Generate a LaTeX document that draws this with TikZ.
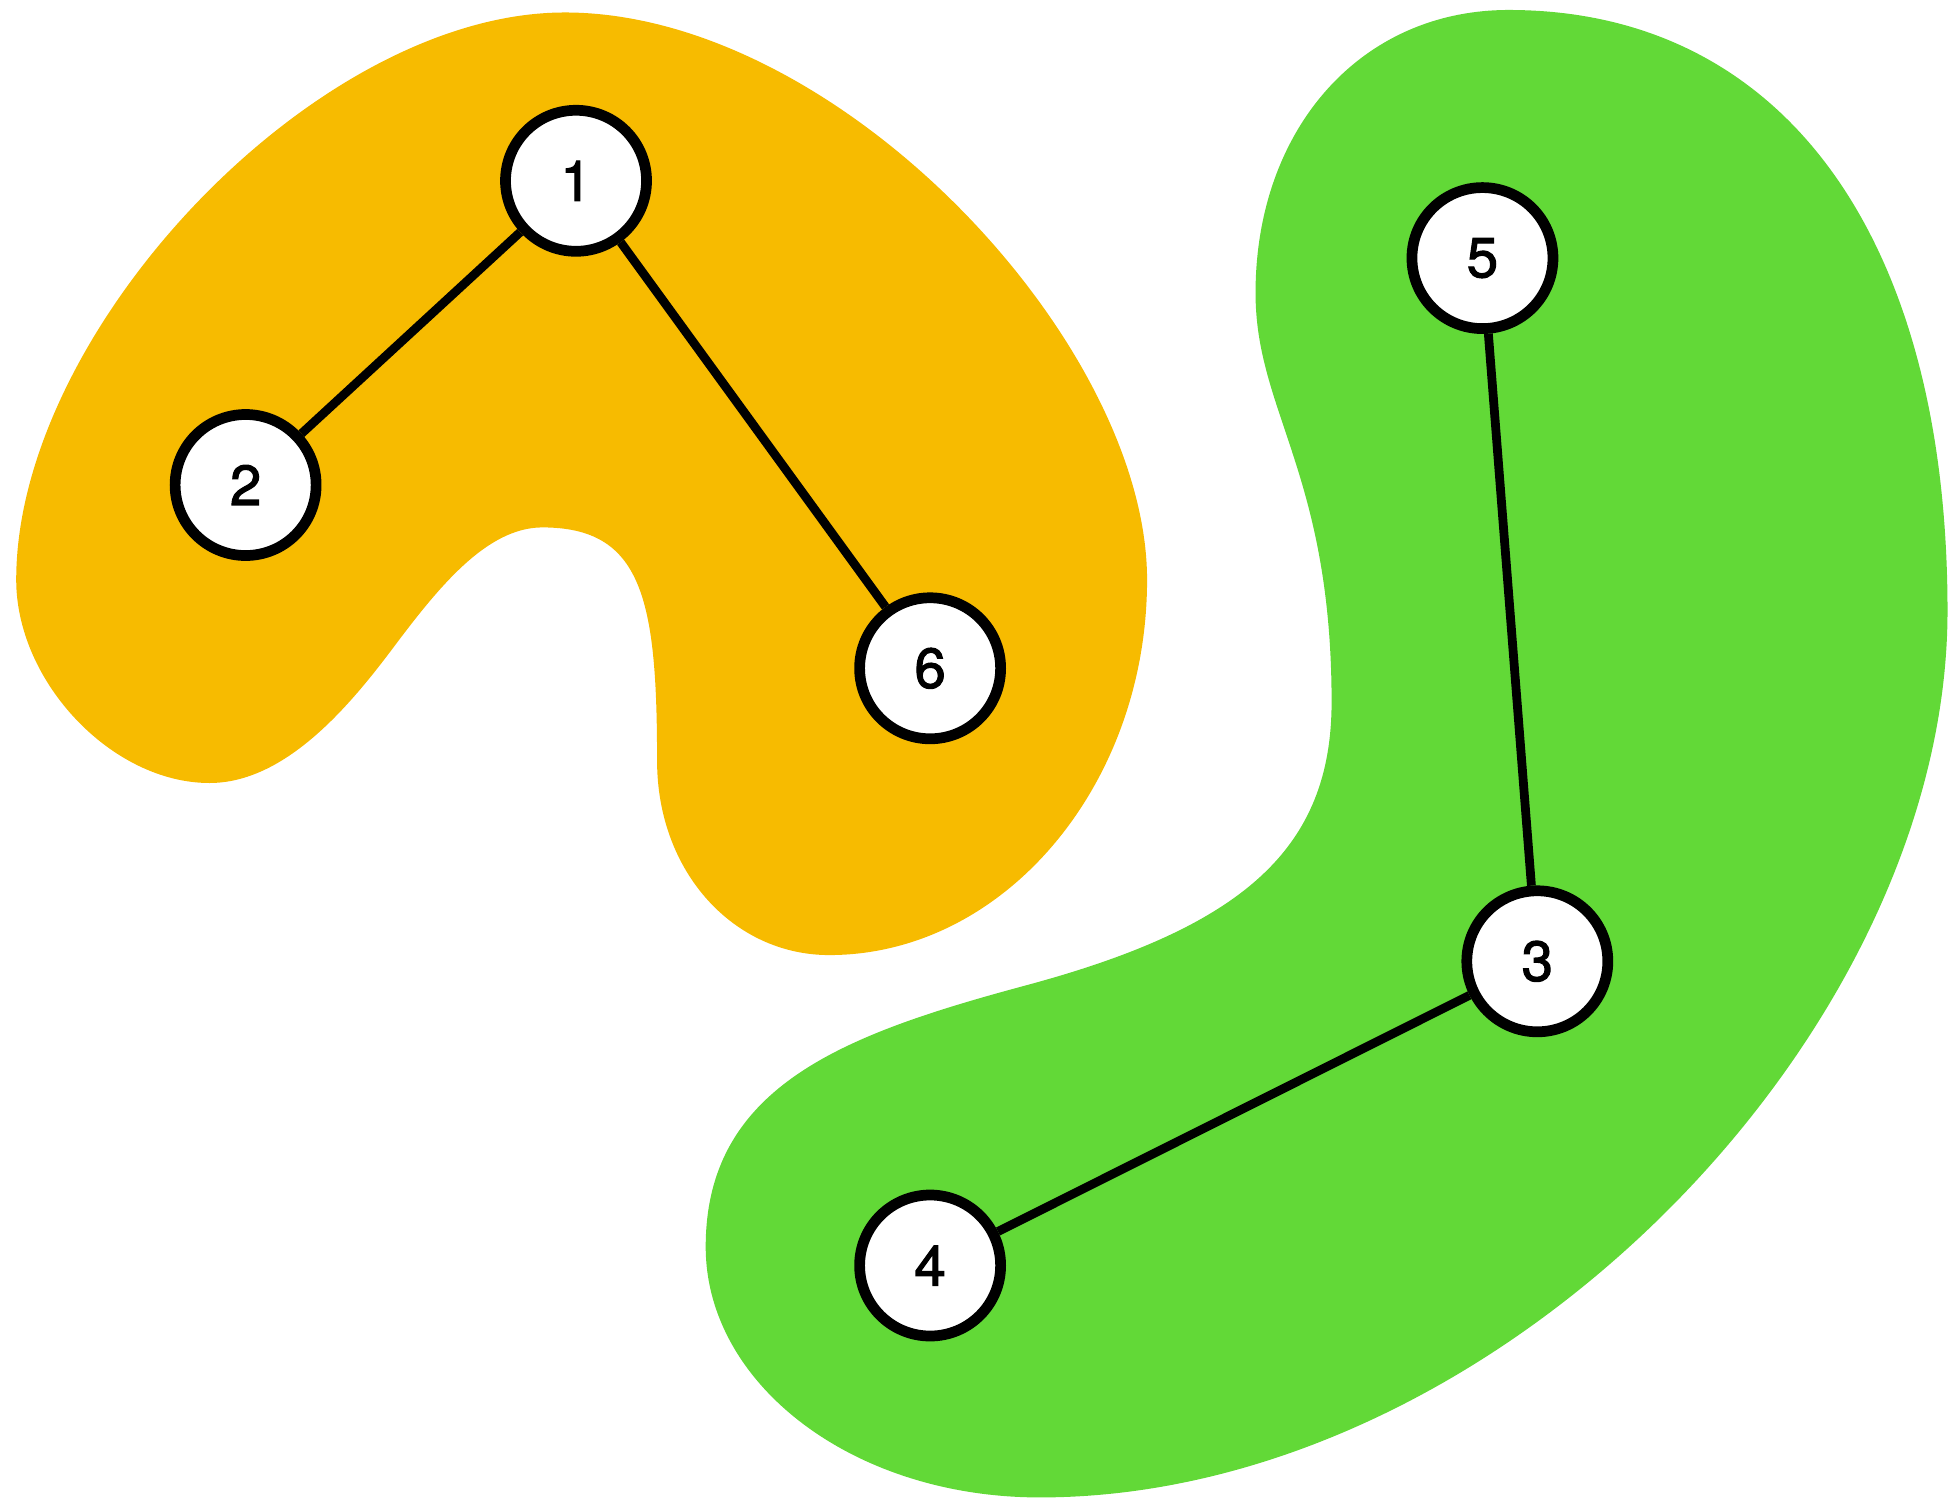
\documentclass[tikz,border=0pt]{standalone}
\usepackage{fontspec}
\setmainfont{TeX Gyre Heros}
\newfontfamily\vtxfont{TeX Gyre Heros}[FakeBold=2]
\definecolor{blobA}{HTML}{F7BB00}
\definecolor{blobB}{HTML}{62D937}
\begin{document}
\begin{tikzpicture}[x=0.012468cm,y=-0.012468cm,
  vtx/.style={circle,draw=black,fill=white,line width=3.05pt,minimum size=1.41cm,inner sep=0pt,font=\vtxfont\fontsize{16}{16}\selectfont},
  lnk/.style={draw=black,line width=2.5pt}]
\useasboundingbox (0,0) rectangle (1568,1201.5);
% orange group
\fill[blobA] (453,10) .. controls (673,10) and (920,275) .. (920,465)
  .. controls (920,630) and (805,766) .. (665,766)
  .. controls (589,766) and (527,700) .. (527,610)
  .. controls (527,480) and (515,423) .. (435,423)
  .. controls (390,423) and (351,472) .. (315,520)
  .. controls (279,568) and (228,628) .. (168,628)
  .. controls (90,628) and (13,547) .. (13,465)
  .. controls (13,265) and (253,10) .. (453,10) -- cycle;
% green group
\fill[blobB] (1210,8) .. controls (1430,8) and (1562,190) .. (1562,490)
  .. controls (1562,830) and (1200,1201) .. (834,1201)
  .. controls (684,1201) and (566,1110) .. (566,1000)
  .. controls (566,870) and (679,829) .. (824,790)
  .. controls (998,743) and (1068,680) .. (1068,563)
  .. controls (1068,380) and (1007,330) .. (1007,235)
  .. controls (1007,105) and (1090,8) .. (1210,8) -- cycle;
\node[vtx] (n1) at (462,145) {1};
\node[vtx] (n2) at (197,389) {2};
\node[vtx] (n6) at (746,536) {6};
\node[vtx] (n5) at (1189,207) {5};
\node[vtx] (n3) at (1233,771) {3};
\node[vtx] (n4) at (746,1015) {4};
\draw[lnk] (n1) -- (n2);
\draw[lnk] (n1) -- (n6);
\draw[lnk] (n5) -- (n3);
\draw[lnk] (n3) -- (n4);
\end{tikzpicture}
\end{document}
